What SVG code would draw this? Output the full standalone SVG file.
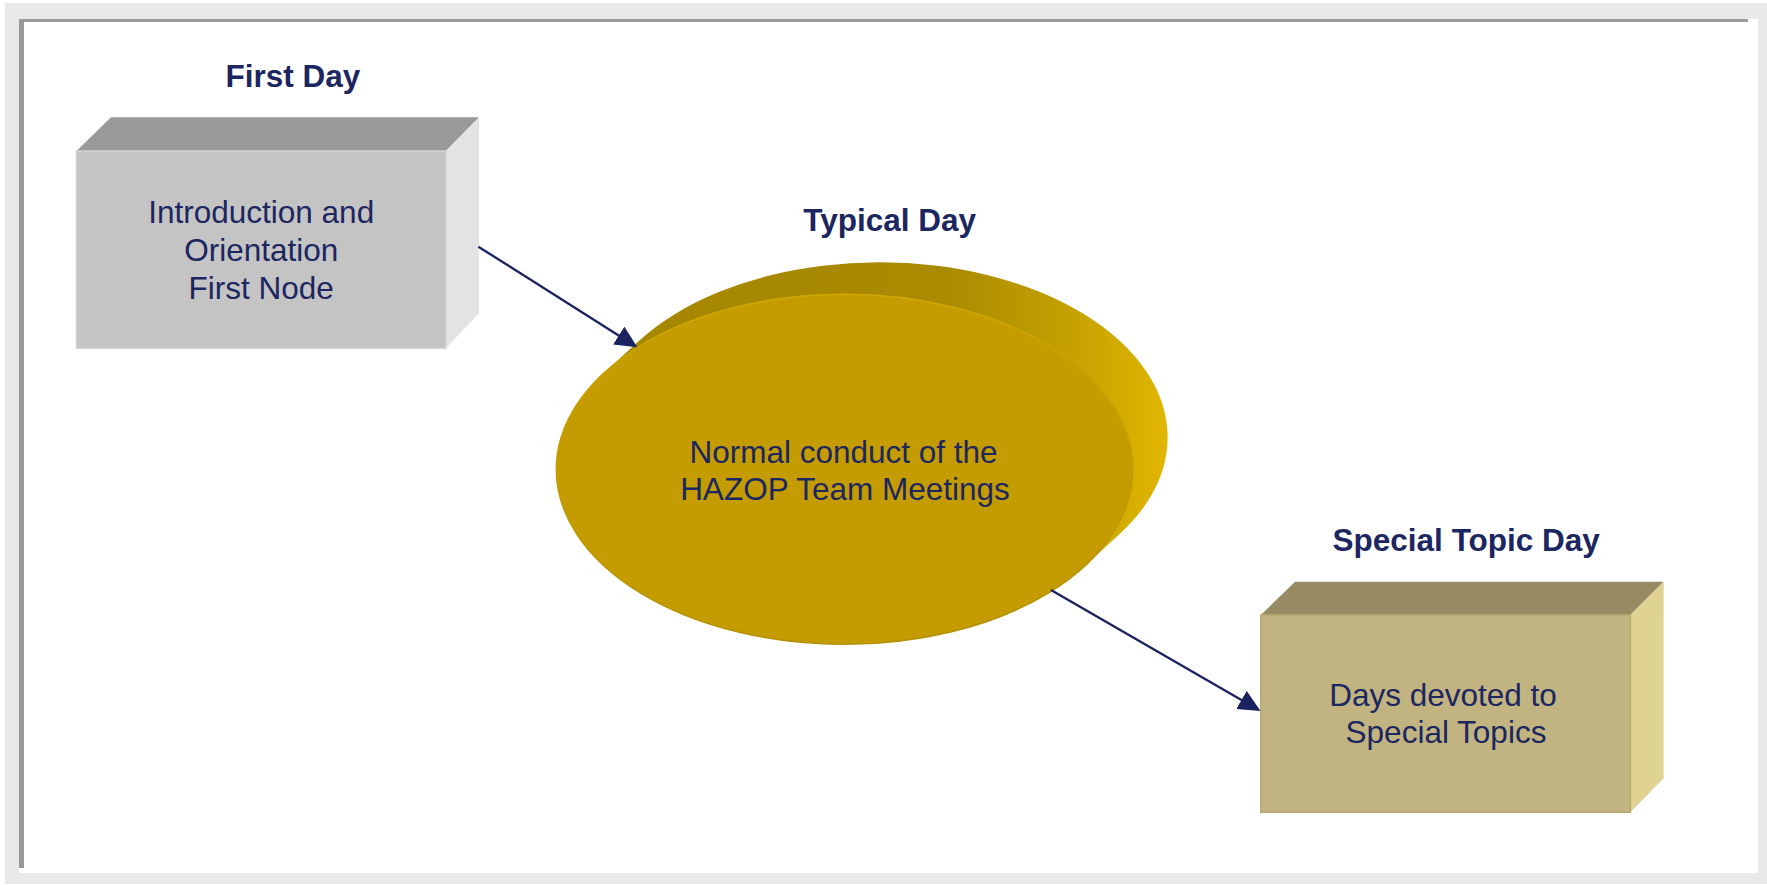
<svg xmlns="http://www.w3.org/2000/svg" width="1767" height="885" viewBox="0 0 1767 885">
<style>
.t{font-family:"Liberation Sans",Arial,sans-serif;font-size:31.5px;fill:#1c2660;text-anchor:middle}
.b{font-weight:bold}
.conn{stroke:#1a2260;stroke-width:2.3;fill:none}
</style>
<defs>
<marker id="ah" markerUnits="userSpaceOnUse" markerWidth="24" markerHeight="22" refX="19" refY="10.5" orient="auto">
<path d="M0,0 L22,10.5 L0,21 Z" fill="#1a2260"/>
</marker>
<linearGradient id="ext" gradientUnits="userSpaceOnUse" x1="600" y1="0" x2="1170" y2="0">
<stop offset="0" stop-color="#a58700"/>
<stop offset="0.6" stop-color="#a98a00"/>
<stop offset="0.82" stop-color="#c4a000"/>
<stop offset="1" stop-color="#e2b700"/>
</linearGradient>
<linearGradient id="edge" x1="0" y1="0" x2="0" y2="1">
<stop offset="0" stop-color="#d0a800"/>
<stop offset="1" stop-color="#b38e00"/>
</linearGradient>
</defs>
<g id="frame">
<rect x="5" y="3" width="1762" height="881" fill="#e9e9e9"/>
<rect x="19" y="19" width="1739" height="854" fill="#ffffff"/>
<rect x="19" y="19" width="1729" height="3" fill="#999999"/>
<rect x="19" y="19" width="5" height="849" fill="#999999"/>
</g>
<g id="first-day">
<text class="t b" x="293" y="87.3">First Day</text>
<polygon points="76.5,151 111,117.3 479,117.3 445.8,151" fill="#999999"/>
<polygon points="445.8,151 479,117.3 479,313.3 445.8,348.3" fill="#e3e3e3"/>
<rect x="76.5" y="151" width="369.3" height="197.3" fill="#c4c4c4" stroke="#d0d0d0" stroke-width="1.5"/>
<text class="t" x="261.2" y="222.7">Introduction and</text>
<text class="t" x="261.2" y="261">Orientation</text>
<text class="t" x="261.2" y="299">First Node</text>
</g>
<g id="typical-day">
<text class="t b" x="889.7" y="230.5">Typical Day</text>
<path d="M604.4,372.5 L639.4,340.5 A288.2,175 0 0 1 1119.6,534.1 L1084.6,566.1 A288.2,175 0 0 0 604.4,372.5 Z" fill="url(#ext)"/>
<ellipse cx="844.5" cy="469.3" rx="288.2" ry="175" fill="#c49c00" stroke="url(#edge)" stroke-width="1.5"/>
<text class="t" x="843.5" y="462.7">Normal conduct of the</text>
<text class="t" x="845" y="500">HAZOP Team Meetings</text>
</g>
<g id="special-topic-day">
<text class="t b" x="1466.2" y="550.7">Special Topic Day</text>
<polygon points="1260.8,615 1295.1,581.7 1663.6,581.7 1630.4,615" fill="#978b63"/>
<polygon points="1630.4,615 1663.6,581.7 1663.6,778.3 1630.4,812.3" fill="#e0d291"/>
<rect x="1260.8" y="615" width="369.6" height="197.3" fill="#c2b480" stroke="#b8a871" stroke-width="1.5"/>
<text class="t" x="1443" y="705.7">Days devoted to</text>
<text class="t" x="1446" y="743.3">Special Topics</text>
</g>
<g id="connectors">
<line class="conn" x1="478.4" y1="246.7" x2="634.8" y2="345.7" marker-end="url(#ah)"/>
<line class="conn" x1="1051" y1="590" x2="1257.9" y2="709.5" marker-end="url(#ah)"/>
</g>
</svg>
